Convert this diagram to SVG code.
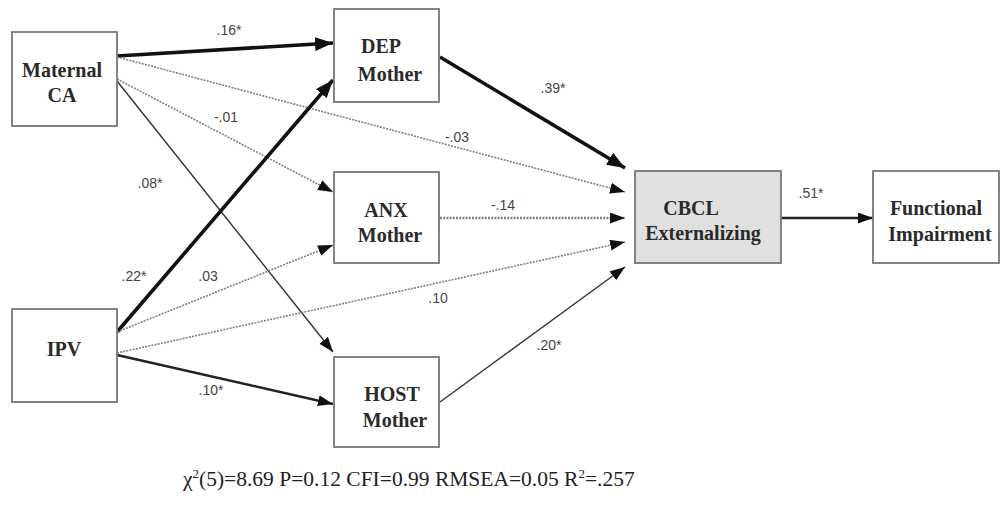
<svg xmlns="http://www.w3.org/2000/svg" width="1002" height="514" viewBox="0 0 1002 514">
<style>
.box{fill:#fff;stroke:#777;stroke-width:1.8}
.grey{fill:#e0e0e0}
.nt{font-family:"Liberation Serif","Times New Roman",serif;font-size:20px;font-weight:bold;fill:#2a2a2a;text-anchor:middle}
.el{font-family:"Liberation Sans",Arial,sans-serif;font-size:14px;fill:#444;text-anchor:middle}
.thick{stroke:#111;stroke-width:3.6;fill:none}
.med{stroke:#222;stroke-width:2.4;fill:none}
.thin{stroke:#333;stroke-width:1.4;fill:none}
.dot{stroke:#808080;stroke-width:1.6;stroke-dasharray:2 1.2;fill:none}
.dot2{stroke:#808080;stroke-width:2.4;stroke-dasharray:2 1.2;fill:none}
.fit{font-family:"Liberation Serif","Times New Roman",serif;font-size:21.5px;fill:#222}
</style>
<defs>
<marker id="ab" markerUnits="userSpaceOnUse" markerWidth="20" markerHeight="14" refX="18" refY="7" orient="auto"><path d="M0,0 L18,7 L0,14 z" fill="#111"/></marker>
<marker id="as" markerUnits="userSpaceOnUse" markerWidth="16" markerHeight="12" refX="15" refY="5.5" orient="auto"><path d="M0,0 L15,5.5 L0,11 z" fill="#111"/></marker>
</defs>
<g id="connectors">
<line class="thick" x1="117" y1="56" x2="333" y2="43" marker-end="url(#ab)"/>
<line class="dot" x1="117" y1="57" x2="625" y2="192" marker-end="url(#as)"/>
<line class="dot" x1="117" y1="79" x2="333" y2="192" marker-end="url(#as)"/>
<line class="thin" x1="117" y1="81" x2="333" y2="352" marker-end="url(#as)"/>
<line class="thick" x1="117" y1="332" x2="333" y2="80" marker-end="url(#ab)"/>
<line class="dot" x1="117" y1="332" x2="333" y2="245" marker-end="url(#as)"/>
<line class="dot" x1="117" y1="353" x2="625" y2="242" marker-end="url(#as)"/>
<line class="med" x1="117" y1="355" x2="333" y2="404" marker-end="url(#as)"/>
<line class="thick" x1="440" y1="57" x2="625" y2="168" marker-end="url(#ab)"/>
<line class="dot2" x1="440" y1="218" x2="625" y2="218" marker-end="url(#as)"/>
<line class="thin" x1="440" y1="402" x2="625" y2="267" marker-end="url(#as)"/>
<line class="med" x1="781" y1="218" x2="873" y2="218" marker-end="url(#as)"/>
<text class="el" x="229" y="35">.16*</text>
<text class="el" x="226" y="122">-.01</text>
<text class="el" x="150" y="188">.08*</text>
<text class="el" x="134" y="281">.22*</text>
<text class="el" x="208" y="281">.03</text>
<text class="el" x="211" y="395">.10*</text>
<text class="el" x="438" y="303">.10</text>
<text class="el" x="549" y="350">.20*</text>
<text class="el" x="553" y="93">.39*</text>
<text class="el" x="457" y="142">-.03</text>
<text class="el" x="503" y="210">-.14</text>
<text class="el" x="811" y="198">.51*</text>
</g>
<g id="maternal-ca">
<rect class="box" x="12" y="32" width="105" height="94"/>
<text class="nt" x="62" y="77">Maternal</text>
<text class="nt" x="62" y="102">CA</text>
</g>
<g id="ipv">
<rect class="box" x="12" y="309" width="105" height="93"/>
<text class="nt" x="64" y="356">IPV</text>
</g>
<g id="dep-mother">
<rect class="box" x="334" y="9" width="105" height="93"/>
<text class="nt" x="381" y="53">DEP</text>
<text class="nt" x="390" y="81">Mother</text>
</g>
<g id="anx-mother">
<rect class="box" x="334" y="172" width="105" height="91"/>
<text class="nt" x="386" y="217">ANX</text>
<text class="nt" x="390" y="242">Mother</text>
</g>
<g id="host-mother">
<rect class="box" x="334" y="357" width="105" height="90"/>
<text class="nt" x="392" y="401">HOST</text>
<text class="nt" x="395" y="427">Mother</text>
</g>
<g id="cbcl">
<rect class="box grey" x="635" y="171" width="146" height="92"/>
<text class="nt" x="691" y="215">CBCL</text>
<text class="nt" x="703" y="240">Externalizing</text>
</g>
<g id="functional-impairment">
<rect class="box" x="873" y="171" width="126" height="92"/>
<text class="nt" x="936" y="215">Functional</text>
<text class="nt" x="940" y="241">Impairment</text>
</g>
<text class="fit" x="183" y="486">χ<tspan font-size="13" dy="-8">2</tspan><tspan dy="8">(5)=8.69 P=0.12 CFI=0.99 RMSEA=0.05 R</tspan><tspan font-size="13" dy="-8">2</tspan><tspan dy="8">=.257</tspan></text>
</svg>
